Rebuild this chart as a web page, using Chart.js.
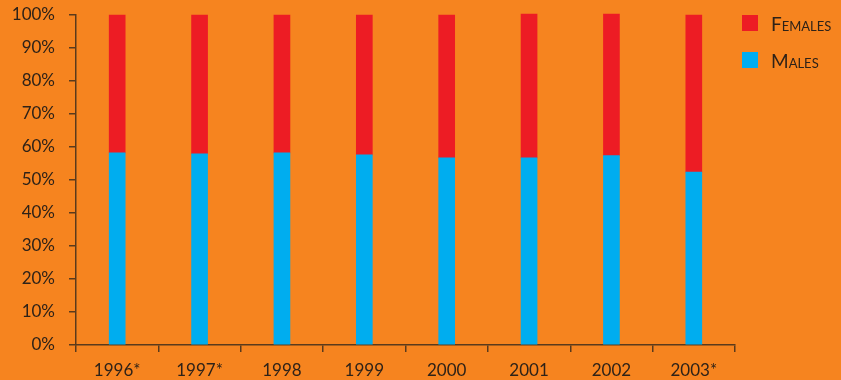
<!DOCTYPE html>
<html lang="en">
<head>
  <meta charset="UTF-8">
  <title>Males and females by year</title>
  <style>
    body { margin: 0; background: #F6841F; }
    .wrap { position: relative; width: 841px; height: 380px; }
    #legend { position: absolute; left: 742px; top: 15px; font-family: Lato, sans-serif; font-variant: small-caps; font-size: 19px; color: #2e2218; }
    #legend .item { display: flex; align-items: center; height: 16px; margin-bottom: 21px; }
    #legend .box { width: 16px; height: 16px; margin-right: 13px; }
  </style>
</head>
<body>
  <div class="wrap">
    <canvas id="chart"></canvas>
    <div id="legend"></div>
  </div>
  <script src="https://cdn.jsdelivr.net/npm/chart.js"></script>
  <script>
    // values (percent)
    var years = ['1996*', '1997*', '1998', '1999', '2000', '2001', '2002', '2003*'];
    var males = [58.2, 57.9, 58.2, 57.6, 56.7, 56.7, 57.4, 52.4];
    var females = [41.8, 42.1, 41.8, 42.4, 43.3, 43.6, 42.9, 47.6];
    var yTicks = [0, 10, 20, 30, 40, 50, 60, 70, 80, 90, 100];

    var ink = '#2e2218';
    var axisColor = '#5a3a1c';

    var chart = new Chart(document.getElementById('chart'), {
      type: 'bar',
      data: {
        labels: years,
        datasets: [
          { label: 'Males', data: males, backgroundColor: '#00ADEF', barThickness: 16, borderWidth: 0, clip: false },
          { label: 'Females', data: females, backgroundColor: '#ED1C24', barThickness: 16, borderWidth: 0, clip: false }
        ]
      },
      options: {
        responsive: true,
        maintainAspectRatio: false,
        animation: false,
        layout: { padding: { left: 0, right: 106, top: 15, bottom: 0 } },
        plugins: { legend: { display: false }, tooltip: { enabled: false } },
        scales: {
          x: {
            stacked: true,
            afterFit: function (s) { s.height = 35; s.paddingLeft = 0; s.paddingRight = 0; },
            border: { color: axisColor, width: 1.5 },
            grid: { drawOnChartArea: false, color: axisColor, tickLength: 7, lineWidth: 1.5 },
            ticks: { color: ink, padding: 8, font: { family: 'Lato', size: 17 } }
          },
          y: {
            stacked: true,
            min: 0,
            max: 100,
            afterFit: function (s) { s.width = 76; s.paddingTop = 0; s.paddingBottom = 0; },
            afterBuildTicks: function (s) { s.ticks = yTicks.map(function (v) { return { value: v }; }); },
            border: { color: axisColor, width: 1.5 },
            grid: { drawOnChartArea: false, color: axisColor, tickLength: 7, lineWidth: 1.5 },
            ticks: { color: ink, padding: 14, font: { family: 'Lato', size: 17 }, callback: function (v) { return v + '%'; } }
          }
        }
      }
    });

    // legend as HTML so the labels can be in small caps
    var legend = document.getElementById('legend');
    chart.data.datasets.slice().reverse().forEach(function (ds) {
      var item = document.createElement('div');
      item.className = 'item';
      item.innerHTML = '<span class="box" style="background:' + ds.backgroundColor + '"></span><span>' + ds.label + '</span>';
      legend.appendChild(item);
    });
  </script>
</body>
</html>
